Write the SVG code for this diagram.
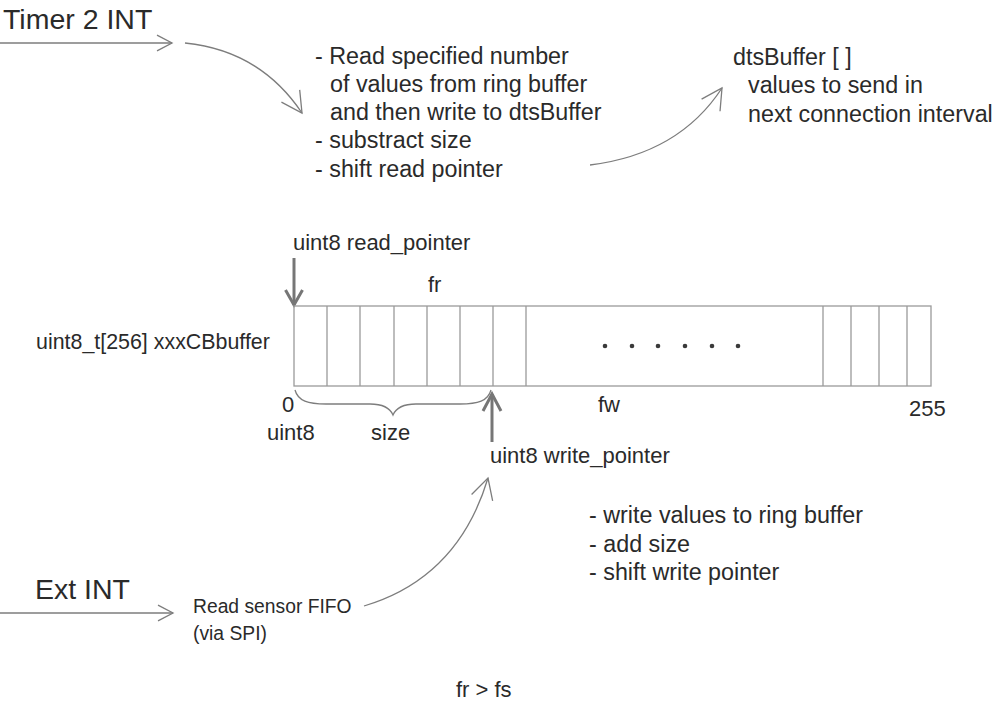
<svg xmlns="http://www.w3.org/2000/svg" width="1003" height="703" viewBox="0 0 1003 703">
  <style>
    text { font-family: "Liberation Sans", Arial, sans-serif; fill: #2a2a2a; }
    .title { font-size: 28.5px; }
    .body { font-size: 23.3px; }
    .ptr { font-size: 22px; }
    .small { font-size: 19.3px; }
    .flow { fill: none; stroke: #7d7d7d; stroke-width: 1.3; }
    .cell { fill: none; stroke: #9a9a9a; stroke-width: 1.3; }
    .pointer { fill: none; stroke: #767676; stroke-width: 3; stroke-linecap: butt; stroke-linejoin: miter; }
    .dot { fill: #3a3a3a; }
  </style>
  <defs>
    <!-- open V heads: short one for straight trigger lines, longer one for curved flows -->
    <marker id="vShort" markerUnits="userSpaceOnUse" viewBox="-18 -10 20 20" markerWidth="20" markerHeight="20" refX="0" refY="0" orient="auto" overflow="visible">
      <path d="M-15,-7.8 L0,0 L-15,7.8" fill="none" stroke="#7d7d7d" stroke-width="1.3"/>
    </marker>
    <marker id="vLong" markerUnits="userSpaceOnUse" viewBox="-24 -13 26 26" markerWidth="26" markerHeight="26" refX="0" refY="0" orient="auto" overflow="visible">
      <path d="M-20.5,-11 L0,0 L-20.5,11" fill="none" stroke="#7d7d7d" stroke-width="1.3"/>
    </marker>
  </defs>

  <!-- connectors -->
  <g id="connectors">
    <line class="flow" x1="0" y1="43" x2="172" y2="43" marker-end="url(#vShort)"/>
    <path class="flow" d="M185,43 Q260,50.5 302,113" marker-end="url(#vLong)"/>
    <path class="flow" d="M590,165 Q679,154 722,88" marker-end="url(#vLong)"/>
    <line class="flow" x1="0" y1="613" x2="173" y2="613" marker-end="url(#vShort)"/>
    <path class="flow" d="M364,606 Q458,578 488,478" marker-end="url(#vLong)"/>
    <!-- read / write pointers -->
    <path class="pointer" d="M294,258 L294,305"/>
    <path class="pointer" d="M285.5,290 L294,305 L302.5,290"/>
    <path class="pointer" d="M492,442 L492,394"/>
    <path class="pointer" d="M483,411 L492,394 L501,411"/>
  </g>

  <g id="timer-int">
    <text class="title" x="3" y="29">Timer 2 INT</text>
  </g>

  <g id="read-task">
    <text class="body" x="315" y="64">- Read specified number</text>
    <text class="body" x="330" y="92">of values from ring buffer</text>
    <text class="body" x="330" y="120">and then write to dtsBuffer</text>
    <text class="body" x="315" y="148">- substract size</text>
    <text class="body" x="315" y="177">- shift read pointer</text>
  </g>

  <g id="dts-buffer">
    <text class="body" x="733" y="65">dtsBuffer [ ]</text>
    <text class="body" x="748" y="93">values to send in</text>
    <text class="body" x="748" y="122">next connection interval</text>
  </g>

  <g id="ring-buffer">
    <text class="ptr" x="293" y="250">uint8 read_pointer</text>
    <text class="ptr" x="428" y="292">fr</text>
    <text x="36" y="349" style="font-size:21.4px">uint8_t[256] xxxCBbuffer</text>
    <rect class="cell" x="294" y="306" width="637" height="80"/>
    <path class="cell" d="M327,306 V386 M360,306 V386 M394,306 V386 M427,306 V386 M460,306 V386 M493,306 V386 M526,306 V386 M823,306 V386 M851,306 V386 M879,306 V386 M907,306 V386"/>
    <circle class="dot" cx="605" cy="346" r="2.3"/>
    <circle class="dot" cx="632" cy="346" r="2.3"/>
    <circle class="dot" cx="658" cy="346" r="2.3"/>
    <circle class="dot" cx="685" cy="346" r="2.3"/>
    <circle class="dot" cx="712" cy="346" r="2.3"/>
    <circle class="dot" cx="738" cy="346" r="2.3"/>
    <!-- brace spanning the filled cells -->
    <path class="flow" d="M295,390 C298,401 308,404 326,404 L370,404 C384,404 390,408 393,415 C396,408 402,404 416,404 L460,404 C478,404 488,401 491,390"/>
    <text class="ptr" x="282" y="412">0</text>
    <text class="ptr" x="598" y="412">fw</text>
    <text class="ptr" x="909" y="416">255</text>
    <text class="ptr" x="267" y="440">uint8</text>
    <text class="ptr" x="371" y="440">size</text>
    <text class="ptr" x="490" y="463">uint8 write_pointer</text>
  </g>

  <g id="write-task">
    <text class="body" x="589" y="523">- write values to ring buffer</text>
    <text class="body" x="589" y="552">- add size</text>
    <text class="body" x="589" y="580">- shift write pointer</text>
  </g>

  <g id="ext-int">
    <text class="title" x="35" y="599">Ext INT</text>
  </g>

  <g id="sensor-read">
    <text class="small" x="193" y="613">Read sensor FIFO</text>
    <text class="small" x="193" y="640">(via SPI)</text>
  </g>

  <g id="rate-relation">
    <text class="ptr" x="456" y="697">fr &gt; fs</text>
  </g>
</svg>
